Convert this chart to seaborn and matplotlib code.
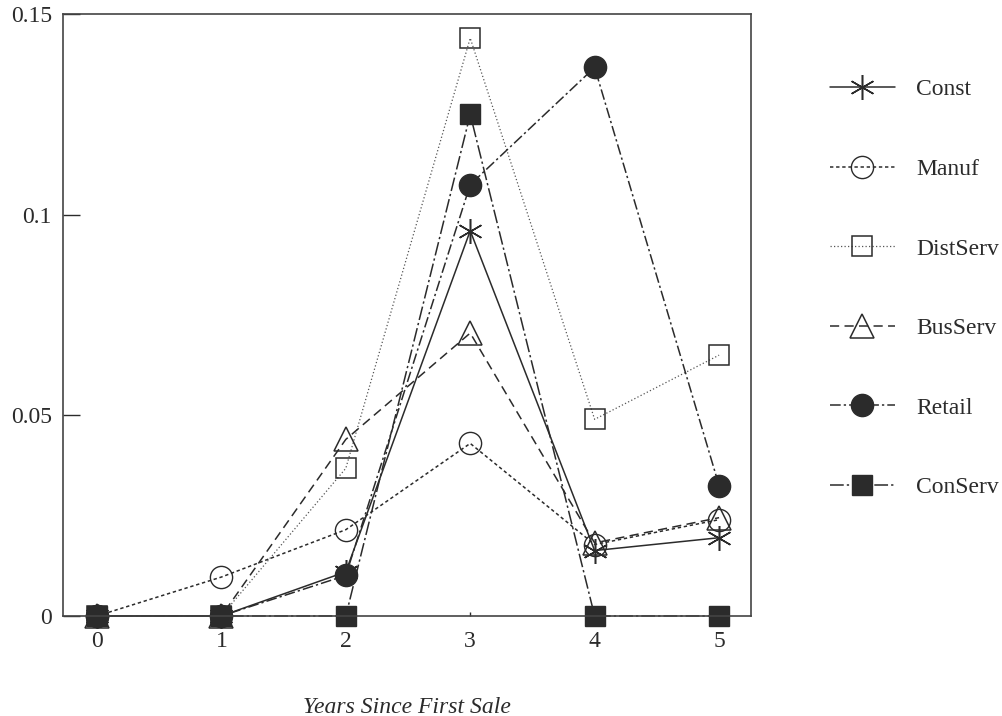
import matplotlib
matplotlib.use("Agg")
import matplotlib.pyplot as plt
import seaborn as sns
import pandas as pd

years = [0, 1, 2, 3, 4, 5]
const = [0.0, 0.0, 0.011, 0.096, 0.0163, 0.0195]
manuf = [0.0, 0.0097, 0.0215, 0.043, 0.0178, 0.024]
distserv = [0.0, 0.0, 0.0368, 0.144, 0.049, 0.065]
busserv = [0.0, 0.0, 0.044, 0.0705, 0.0182, 0.0245]
retail = [0.0, 0.0, 0.0101, 0.1075, 0.1367, 0.0325]
conserv = [0.0, 0.0, 0.0, 0.125, 0.0, 0.0]

series_names = ["Const", "Manuf", "DistServ", "BusServ", "Retail", "ConServ"]
series_values = [const, manuf, distserv, busserv, retail, conserv]

rows = []
for name, vals in zip(series_names, series_values):
    for x, v in zip(years, vals):
        rows.append({"year": x, "value": v, "sector": name})
df = pd.DataFrame(rows)

sns.set_theme(style="white")
plt.rcParams["font.family"] = ["Liberation Serif", "DejaVu Serif"]

ink = "#2b2b2b"
styles = {
    "Const":    dict(marker=(6, 2, 0), ms=18, mfc=ink, linestyle="-", lw=1.1, color=ink, mew=1.1),
    "Manuf":    dict(marker="o", ms=16, mfc="none", linestyle=(0, (2.2, 1.8)), lw=1.1, color=ink, mew=1.0),
    "DistServ": dict(marker="s", ms=14, mfc="none", linestyle=(0, (1, 1.8)), lw=0.9, color="#555555", mew=1.1),
    "BusServ":  dict(marker="^", ms=17, mfc="none", linestyle=(0, (6, 3.5)), lw=1.1, color=ink, mew=1.1),
    "Retail":   dict(marker="o", ms=16, mfc=ink, linestyle=(0, (7, 2, 1.5, 2)), lw=1.1, color=ink, mew=1.0),
    "ConServ":  dict(marker="s", ms=14, mfc=ink, linestyle=(0, (9, 2, 1.5, 2)), lw=1.1, color=ink, mew=1.0),
}

fig = plt.figure(figsize=(10.03, 7.16), dpi=100)
ax = fig.add_axes([0.0628, 0.1397, 0.686, 0.8407])

for name in series_names:
    st = styles[name]
    sub = df[df["sector"] == name]
    sns.lineplot(data=sub, x="year", y="value", ax=ax, label=name,
                 color=st["color"], linestyle=st["linestyle"], linewidth=st["lw"],
                 marker=st["marker"], markersize=st["ms"], markerfacecolor=st["mfc"],
                 markeredgecolor=ink, markeredgewidth=st["mew"], clip_on=False,
                 estimator=None, sort=False)

ax.set_xlim(-0.273, 5.257)
ax.set_ylim(0, 0.15)
ax.set_xticks(years)
ax.set_xticklabels([str(y) for y in years])
ax.set_yticks([0, 0.05, 0.1, 0.15])
ax.set_yticklabels(["0", "0.05", "0.1", "0.15"])
ax.tick_params(axis="y", direction="in", length=12, width=1.0, color=ink, pad=8,
               labelsize=17, labelcolor=ink, left=True)
ax.tick_params(axis="x", direction="in", length=3, width=1.0, color=ink, pad=11,
               labelsize=17, labelcolor=ink, bottom=True)
for sp in ax.spines.values():
    sp.set_color("#444444")
    sp.set_linewidth(1.2)

ax.set_ylabel("")
ax.set_xlabel("Years Since First Sale", fontsize=17, style="italic", color=ink, labelpad=32)

handles, labels = ax.get_legend_handles_labels()
ax.legend_.remove()
fig.legend(handles, labels, loc="upper left", bbox_to_anchor=(0.8275, 0.890),
           frameon=False, borderpad=0, borderaxespad=0, fontsize=17,
           labelspacing=2.46, handlelength=2.75, handletextpad=0.9, numpoints=1,
           labelcolor=ink)

fig.savefig("out.png", dpi=100, facecolor="white")
